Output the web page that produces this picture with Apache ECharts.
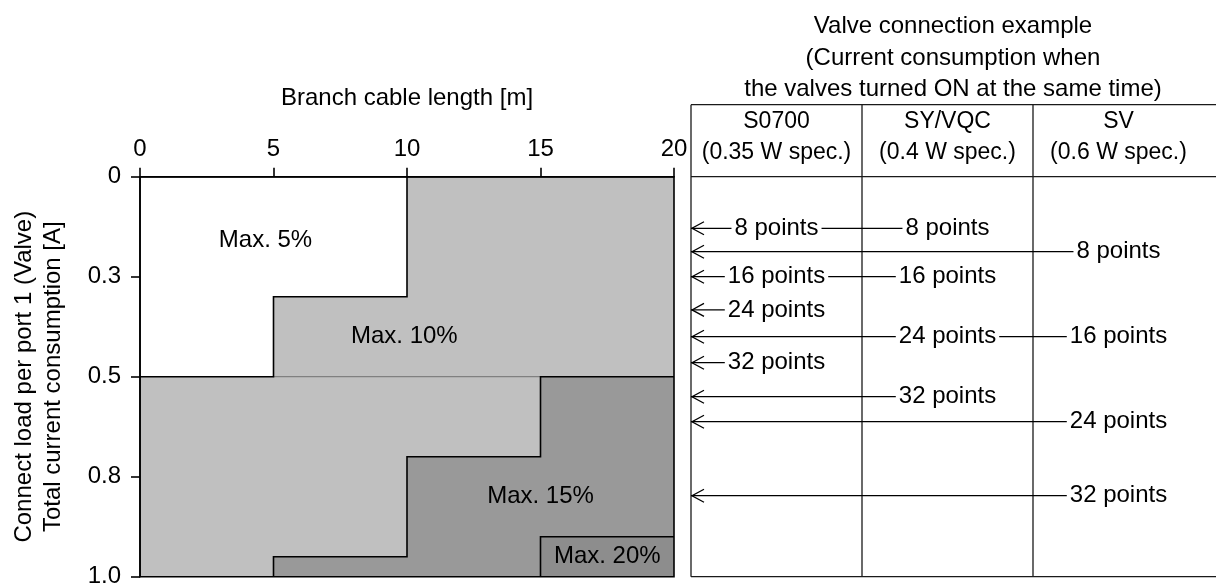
<!DOCTYPE html>
<html>
<head>
<meta charset="utf-8">
<script src="https://cdn.jsdelivr.net/npm/echarts@6/dist/echarts.min.js"></script>
<style>
  html, body { margin: 0; padding: 0; background: #fff; }
  #main { width: 1216px; height: 585px; }
</style>
</head>
<body>
<div id="main"></div>
<script>
  // left chart: branch cable length [m] against load
  // load is kept as position on the axis (the ticks 0 / 0.3 / 0.5 / 0.8 / 1.0 are evenly spaced)
  const lengthTicks = [0, 5, 10, 15, 20];
  const loadTicks = ['0', '0.3', '0.5', '0.8', '1.0'];

  // zone outlines, [length, load position]
  const zone10 = [[10, 0], [20, 0], [20, 0.5], [15, 0.5], [15, 0.7], [10, 0.7], [10, 0.95], [5, 0.95], [5, 1], [0, 1], [0, 0.5], [5, 0.5], [5, 0.3], [10, 0.3]];
  const zone15 = [[15, 0.5], [20, 0.5], [20, 0.9], [15, 0.9], [15, 1], [5, 1], [5, 0.95], [10, 0.95], [10, 0.7], [15, 0.7]];
  const zone20 = [[15, 0.9], [20, 0.9], [20, 1], [15, 1]];
  const zoneColors = ['#c0c0c0', '#999999', '#8d8d8d'];

  const zoneNames = ['Max. 5%', 'Max. 10%', 'Max. 15%', 'Max. 20%'];
  const zoneNameAt = [[4.7, 0.158], [9.9, 0.398], [15, 0.8], [17.5, 0.95]];

  // step borders between zones
  const border5 = [[10, 0], [10, 0.3], [5, 0.3], [5, 0.5], [0, 0.5]];
  const border10 = [[20, 0.5], [15, 0.5], [15, 0.7], [10, 0.7], [10, 0.95], [5, 0.95], [5, 1]];
  const border15 = [[20, 0.9], [15, 0.9], [15, 1]];
  const frame = [[0, 0], [20, 0], [20, 1], [0, 1], [0, 0]];
  const faintLine = [[5, 0.5], [15, 0.5]];

  // right table: valve connection example
  const models = ['S0700', 'SY/VQC', 'SV'];
  const specs = ['(0.35 W spec.)', '(0.4 W spec.)', '(0.6 W spec.)'];
  const pointLabels = ['8 points', '16 points', '24 points', '32 points'];
  const s0700Load = [0.129, 0.25, 0.333, 0.465];
  const syvqcLoad = [0.129, 0.25, 0.4, 0.55];
  const svLoad = [0.1875, 0.4, 0.6125, 0.7975];

  const FONT = '"Liberation Sans", Arial, sans-serif';
  const zones = [zone10, zone15, zone20];
  const borders = [frame, border5, border10, border15];

  // labels in the table: [column centre, load, label index]
  const tableLabels = [];
  [s0700Load, syvqcLoad, svLoad].forEach((arr, col) => {
    arr.forEach((y, i) => tableLabels.push([col + 0.5, y, i]));
  });
  // one arrow line per load level, running to the rightmost label of that level
  const arrowRows = [];
  tableLabels.forEach(d => {
    const row = arrowRows.find(r => r[0] === d[1]);
    if (row) row[1] = Math.max(row[1], d[0]);
    else arrowRows.push([d[1], d[0]]);
  });

  const tableCols = 525 / 171;

  const myChart = echarts.init(document.getElementById('main'));
  myChart.setOption({
    animation: false,
    backgroundColor: '#fff',
    textStyle: { fontFamily: FONT, color: '#000' },
    title: {
      text: 'Valve connection example\n(Current consumption when\nthe valves turned ON at the same time)',
      left: 948,
      top: 6,
      textAlign: 'center',
      textStyle: { fontFamily: FONT, fontSize: 24, fontWeight: 'normal', color: '#000', lineHeight: 31.5 }
    },
    grid: [
      { left: 140, top: 176.7, width: 534, height: 400, outerBoundsMode: 'none', containLabel: false },
      { left: 691, top: 104.7, width: 525, height: 472, outerBoundsMode: 'none', containLabel: false }
    ],
    xAxis: [
      {
        type: 'value', gridIndex: 0, position: 'top', min: 0, max: 20, interval: 5, z: 5,
        name: 'Branch cable length [m]', nameLocation: 'middle', nameGap: 66,
        nameTextStyle: { fontFamily: FONT, fontSize: 24, color: '#000' },
        axisLine: { show: true, lineStyle: { color: '#000', width: 1.6 } },
        axisTick: { show: true, inside: false, length: 9, lineStyle: { color: '#000', width: 1.6 } },
        axisLabel: {
          show: true, margin: 15, fontSize: 24, color: '#000', fontFamily: FONT,
          showMinLabel: true, showMaxLabel: true,
          formatter: v => lengthTicks.indexOf(v) >= 0 ? String(v) : ''
        },
        splitLine: { show: false }
      },
      { type: 'value', gridIndex: 1, min: 0, max: tableCols, show: false }
    ],
    yAxis: [
      {
        type: 'value', gridIndex: 0, inverse: true, min: 0, max: 1, interval: 0.25, z: 5,
        name: 'Connect load per port 1 (Valve)\nTotal current consumption [A]',
        nameLocation: 'middle', nameRotate: 90, nameGap: 72,
        nameTextStyle: { fontFamily: FONT, fontSize: 24, color: '#000', lineHeight: 29 },
        axisLine: { show: true, lineStyle: { color: '#000', width: 1.6 } },
        axisTick: { show: true, inside: false, length: 9, lineStyle: { color: '#000', width: 1.6 } },
        axisLabel: {
          show: true, margin: 19, fontSize: 24, color: '#000', fontFamily: FONT,
          showMinLabel: true, showMaxLabel: true,
          formatter: v => loadTicks[Math.round(v / 0.25)]
        },
        splitLine: { show: false }
      },
      { type: 'value', gridIndex: 1, inverse: true, min: -0.18, max: 1, show: false }
    ],
    series: [
      {
        name: 'zones',
        type: 'custom',
        xAxisIndex: 0, yAxisIndex: 0,
        z: 2,
        data: zones.map((z, i) => [i]),
        renderItem: (params, api) => {
          const i = api.value(0);
          return {
            type: 'polygon',
            shape: { points: zones[i].map(p => api.coord(p)) },
            style: { fill: zoneColors[i] }
          };
        }
      },
      {
        name: 'faint',
        type: 'custom',
        xAxisIndex: 0, yAxisIndex: 0,
        z: 3,
        data: [[0]],
        renderItem: (params, api) => ({
          type: 'polyline',
          shape: { points: faintLine.map(p => api.coord(p)) },
          style: { stroke: '#808080', lineWidth: 1.2, fill: null }
        })
      },
      {
        name: 'borders',
        type: 'custom',
        xAxisIndex: 0, yAxisIndex: 0,
        z: 4,
        data: borders.map((b, i) => [i]),
        renderItem: (params, api) => ({
          type: 'polyline',
          shape: { points: borders[api.value(0)].map(p => api.coord(p)) },
          style: { stroke: '#000', lineWidth: 1.6, fill: null }
        })
      },
      {
        name: 'zoneNames',
        type: 'custom',
        xAxisIndex: 0, yAxisIndex: 0,
        z: 5,
        data: zoneNameAt.map((p, i) => [p[0], p[1], i]),
        renderItem: (params, api) => {
          const c = api.coord([api.value(0), api.value(1)]);
          return {
            type: 'text',
            x: c[0], y: c[1],
            style: {
              text: zoneNames[api.value(2)], fill: '#000', fontSize: 24, fontFamily: FONT,
              align: 'center', verticalAlign: 'middle'
            }
          };
        }
      },
      {
        name: 'table',
        type: 'custom',
        xAxisIndex: 1, yAxisIndex: 1,
        z: 2,
        data: [[0]],
        renderItem: (params, api) => {
          const lines = [];
          [0, 1, 2].forEach(x => lines.push([api.coord([x, -0.18]), api.coord([x, 1])]));
          [-0.18, 0, 1].forEach(y => lines.push([api.coord([0, y]), api.coord([tableCols, y])]));
          const heads = models.map((m, i) => {
            const c = api.coord([i + 0.5, -0.098]);
            return {
              type: 'text', x: c[0], y: c[1],
              style: {
                text: m + '\n' + specs[i], fill: '#000', fontSize: 23, fontFamily: FONT,
                align: 'center', verticalAlign: 'middle', lineHeight: 31
              }
            };
          });
          return {
            type: 'group',
            children: lines.map(l => ({
              type: 'line',
              shape: { x1: l[0][0], y1: l[0][1], x2: l[1][0], y2: l[1][1] },
              style: { stroke: '#1a1a1a', lineWidth: 1.3 }
            })).concat(heads)
          };
        }
      },
      {
        name: 'arrows',
        type: 'custom',
        xAxisIndex: 1, yAxisIndex: 1,
        z: 3,
        data: arrowRows,
        renderItem: (params, api) => {
          const y = api.value(0);
          const tip = api.coord([0, y]);
          const end = api.coord([api.value(1), y]);
          return {
            type: 'group',
            children: [
              {
                type: 'line',
                shape: { x1: tip[0], y1: tip[1], x2: end[0], y2: end[1] },
                style: { stroke: '#000', lineWidth: 1.3 }
              },
              {
                type: 'polyline',
                shape: { points: [[tip[0] + 13, tip[1] - 6.5], [tip[0] + 1, tip[1]], [tip[0] + 13, tip[1] + 6.5]] },
                style: { stroke: '#000', lineWidth: 1.3, fill: null }
              }
            ]
          };
        }
      },
      {
        name: 'points',
        type: 'custom',
        xAxisIndex: 1, yAxisIndex: 1,
        z: 4,
        data: tableLabels,
        renderItem: (params, api) => {
          const c = api.coord([api.value(0), api.value(1)]);
          return {
            type: 'text',
            x: c[0], y: c[1],
            style: {
              text: pointLabels[api.value(2)], fill: '#000', fontSize: 24, fontFamily: FONT,
              align: 'center', verticalAlign: 'middle',
              backgroundColor: '#fff', padding: [0, 3]
            }
          };
        }
      }
    ]
  });
</script>
</body>
</html>
